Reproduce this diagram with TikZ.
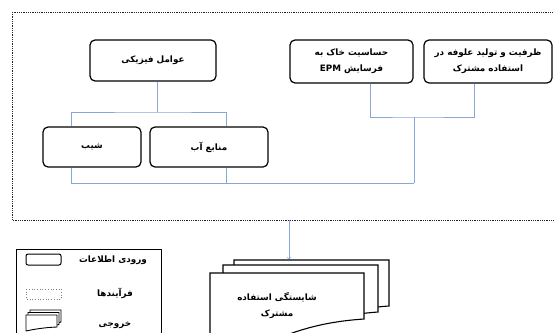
\documentclass[tikz,border=0pt]{standalone}
\usepackage{fontspec}
\TeXXeTstate=1
\newfontfamily\farsi[Script=Arabic]{DejaVu Sans}
\newcommand{\fatext}[1]{\beginR #1\endR}
\definecolor{linkblue}{rgb}{0.53,0.66,0.84}
\tikzset{
  inbox/.style={draw,line width=1.2pt,rounded corners=5pt,align=center,
    font=\farsi\bfseries\fontsize{8.8}{16}\selectfont,inner sep=0pt},
  link/.style={draw=linkblue,line width=0.7pt},
  label/.style={align=center,font=\farsi\bfseries\fontsize{8.8}{16}\selectfont,inner sep=0pt},
  doc/.style={draw,line width=1.1pt,fill=white,line join=miter},
}
\begin{document}
\begin{tikzpicture}[x=1pt,y=-1pt]
\useasboundingbox (0,0) rectangle (554,332);
\clip (0,0) rectangle (554,332);
% process frame
\draw[line width=1pt,dash pattern=on 1pt off 0.8pt,draw=black!85] (12,12) rectangle (600,220);
% input boxes
\node[inbox,minimum width=126pt,minimum height=41pt] (fizik) at (153,60.5) {\fatext{عوامل فیزیکی}};
\node[inbox,minimum width=123pt,minimum height=43pt] (hassas) at (351.5,61.5) {\fatext{حساسیت خاک به}\\ \fatext{فرسایش \beginL EPM\endL}};
\node[inbox,minimum width=128pt,minimum height=43pt] (zarfiat) at (488,61.5) {\fatext{ظرفیت و تولید علوفه در}\\ \fatext{استفاده مشترک}};
\node[inbox,minimum width=98pt,minimum height=40pt] (shib) at (92,147) {\fatext{شیب}};
\node[inbox,minimum width=118pt,minimum height=40pt] (manabe) at (209,147) {\fatext{منابع آب}};
% connectors
\coordinate (jtop) at (157,112);
\coordinate (jbot) at (414,183);
\coordinate (jmid) at (414,117);
\draw[link] (fizik.south -| jtop) -- (jtop);
\draw[link] ([xshift=-21pt]shib.north) |- (jtop) -| ([xshift=17pt]manabe.north);
\draw[link] ([xshift=-21pt]shib.south) |- (jbot);
\draw[link] ([xshift=17pt]manabe.south) -- ([xshift=17pt]manabe.south |- jbot);
\draw[link] (jbot) -- (jmid);
\draw[link] ([xshift=18.5pt]hassas.south) |- (jmid) -| ([xshift=-14pt]zarfiat.south);
% output
\coordinate (frameout) at (289,220);
\coordinate (stacktop) at (289,259.5);
\draw[link,->] (frameout) -- (stacktop);
\draw[doc] (234,320) -- (234,260) -- (389,260) -- (389,306) .. controls (360,308) and (330,314) .. (300,325);
\draw[doc] (223,330) -- (223,265) -- (378,265) -- (378,312) .. controls (350,314) and (320,320) .. (290,332);
\draw[doc] (210,345) -- (210,273) -- (364,273) -- (364,319) .. controls (335,321) and (305,326) .. (270,342);
\node[label] (shayest) at (277,306) {\fatext{شایستگی استفاده}\\ \fatext{مشترک}};
% legend
\draw[line width=0.9pt] (16,340) -- (16,249) -- (161,249) -- (161,340);
\draw[line width=1pt,rounded corners=2pt] (26,254) rectangle (61,265);
\node[label] (lgin) at (113,260) {\fatext{ورودی اطلاعات}};
\draw[dotted,line width=0.7pt,draw=gray] (26,289) rectangle (61,299);
\node[label] (lgproc) at (115,293.5) {\fatext{فرآیندها}};
\draw[doc,line width=0.9pt] (30,326) -- (30,310) -- (61,310) -- (61,322) -- (57,323);
\draw[doc,line width=0.9pt] (28,328) -- (28,312.5) -- (59,312.5) -- (59,324.5) -- (57,325);
\draw[doc,line width=0.9pt] (26,331) -- (26,315) -- (57,315) -- (57,327) .. controls (45,327.5) and (35,329) .. (26,331);
\node[label] (lgout) at (115,325) {\fatext{خروجی}};
\end{tikzpicture}
\end{document}
